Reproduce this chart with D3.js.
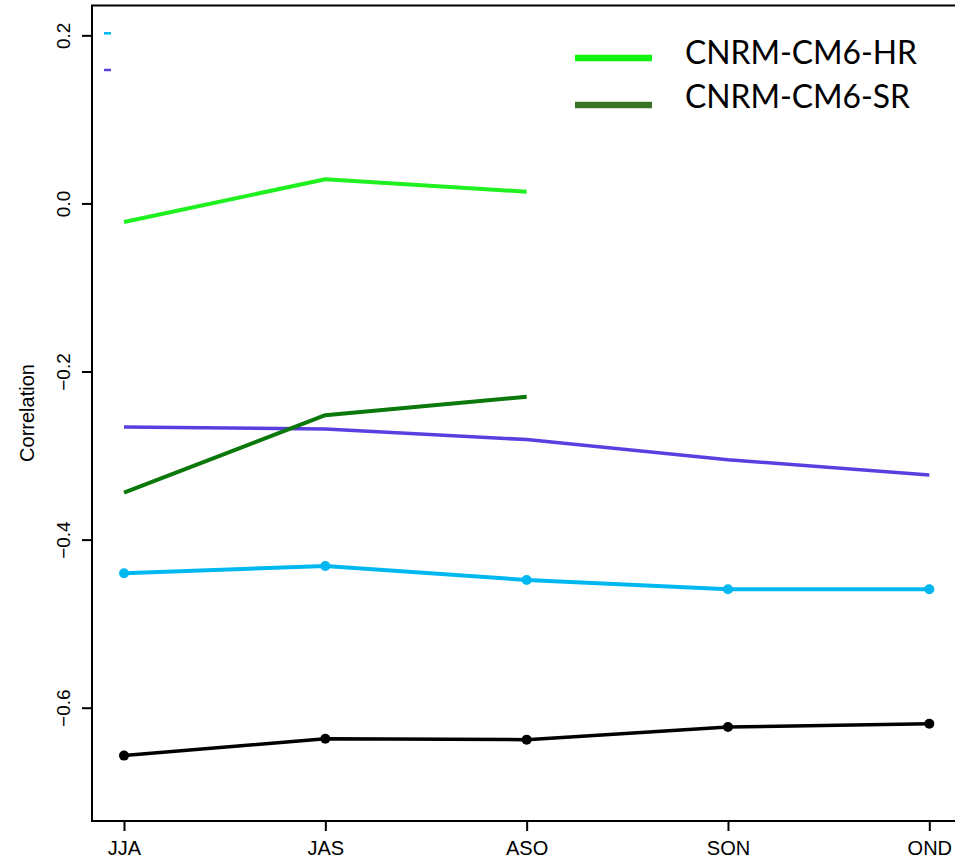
<!DOCTYPE html>
<html><head><meta charset="utf-8">
<script src="https://cdn.jsdelivr.net/npm/d3@7"></script>
<style>body{margin:0;background:#fff}svg{display:block}</style>
</head><body>
<svg id="c" width="955" height="859"></svg>
<script>
const seasons = ["JJA","JAS","ASO","SON","OND"];
const yTicks = [0.2, 0.0, -0.2, -0.4, -0.6];
const yTickLabels = ["0.2","0.0","\u22120.2","\u22120.4","\u22120.6"];
const blackVals = [-0.657, -0.637, -0.638, -0.623, -0.619];
const cyanVals = [-0.440, -0.4315, -0.448, -0.459, -0.459];
const purpleVals = [-0.266, -0.2685, -0.281, -0.305, -0.323];
const hrVals = [-0.022, 0.0287, 0.014];
const srVals = [-0.344, -0.252, -0.230];
const legendLabels = ["CNRM-CM6-HR","CNRM-CM6-SR"];

const svg = d3.select("#c");
const L = 92, T = 5.5, B = 821, R = 962;
const x = d3.scalePoint().domain(seasons).range([124, 929.3]);
const y = d3.scaleLinear().domain([-0.7348, 0.2355]).range([B, T]);
const font = "Liberation Sans, Arial, sans-serif";

// box
svg.append("rect").attr("x", L).attr("y", T).attr("width", R - L).attr("height", B - T)
  .attr("fill", "none").attr("stroke", "#000").attr("stroke-width", 2);

// y axis
const yAx = svg.append("g").attr("transform", `translate(${L},0)`)
  .call(d3.axisLeft(y).tickValues(yTicks).tickSize(10).tickFormat((d,i)=>yTickLabels[i]));
yAx.select(".domain").remove();
yAx.selectAll("line").attr("stroke", "#000").attr("stroke-width", 2);
yAx.selectAll(".tick text").attr("font-family", font).attr("font-size", 19).attr("fill", "#000")
  .attr("text-anchor", "middle").attr("x", 0).attr("y", 0).attr("dy", null)
  .attr("transform", "translate(-22,0) rotate(-90)");

// x axis
const xAx = svg.append("g").attr("transform", `translate(0,${B})`)
  .call(d3.axisBottom(x).tickSize(10));
xAx.select(".domain").remove();
xAx.selectAll("line").attr("stroke", "#000").attr("stroke-width", 2);
xAx.selectAll("text").attr("font-family", font).attr("font-size", 20)
  .attr("fill", "#000").attr("y", 34).attr("dy", null);

// y title
svg.append("text").attr("transform", "translate(34,413) rotate(-90)")
  .attr("text-anchor", "middle").attr("font-family", font)
  .attr("font-size", 20).text("Correlation");

const line = d3.line().x((d,i)=>x(seasons[i])).y(d=>y(d));
function series(vals, color, width, dots){
  svg.append("path").datum(vals).attr("d", line).attr("fill","none")
    .attr("stroke", color).attr("stroke-width", width).attr("stroke-linejoin","round");
  if (dots) svg.selectAll(null).data(vals).enter().append("circle")
    .attr("cx",(d,i)=>x(seasons[i])).attr("cy", d=>y(d)).attr("r", 5).attr("fill", color);
}
series(purpleVals, "#5c3ee0", 3.5, false);
series(hrVals, "#1ff01f", 4, false);
series(srVals, "#0b780b", 4, false);
series(cyanVals, "#00b8f0", 4, true);
series(blackVals, "#000", 3.5, true);

// small dashes at top-left
svg.append("line").attr("x1",104).attr("x2",111).attr("y1",33.3).attr("y2",33.3).attr("stroke","#00b8f0").attr("stroke-width",2.5);
svg.append("line").attr("x1",104).attr("x2",111).attr("y1",70).attr("y2",70).attr("stroke","#5c3ee0").attr("stroke-width",2.5);

// legend
const legColors = ["#11f511", "#3a7326"];
const legY = [58, 105];
const legTextY = [63.5, 107.5];
const legW = [232, 225];
legendLabels.forEach((lab,i)=>{
  svg.append("line").attr("x1",575).attr("x2",652).attr("y1",legY[i]).attr("y2",legY[i])
    .attr("stroke", legColors[i]).attr("stroke-width", 6.5);
  svg.append("text").attr("x",685).attr("y",legTextY[i]).attr("font-family","Lato, Carlito, 'Open Sans', sans-serif")
    .attr("font-size",33).attr("fill","#000").attr("textLength",legW[i]).attr("lengthAdjust","spacingAndGlyphs").text(lab);
});
</script>
</body></html>
